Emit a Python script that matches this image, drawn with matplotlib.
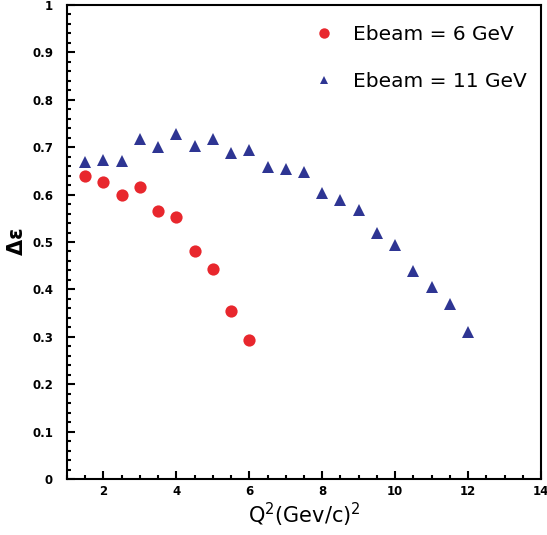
import matplotlib
matplotlib.use('Agg')
import matplotlib.pyplot as plt
from matplotlib.lines import Line2D
from matplotlib.ticker import MultipleLocator

# Ebeam = 6 GeV
q2_6 = [1.5, 2.0, 2.5, 3.0, 3.5, 4.0, 4.5, 5.0, 5.5, 6.0]
de_6 = [0.639, 0.627, 0.600, 0.617, 0.566, 0.552, 0.481, 0.442, 0.354, 0.293]

# Ebeam = 11 GeV
q2_11 = [1.5, 2.0, 2.5, 3.0, 3.5, 4.0, 4.5, 5.0, 5.5, 6.0, 6.5, 7.0, 7.5,
         8.0, 8.5, 9.0, 9.5, 10.0, 10.5, 11.0, 11.5, 12.0]
de_11 = [0.669, 0.674, 0.671, 0.717, 0.700, 0.727, 0.702, 0.717, 0.688, 0.693,
         0.659, 0.655, 0.647, 0.604, 0.589, 0.568, 0.519, 0.493, 0.439, 0.406,
         0.370, 0.311]

labels = ['Ebeam = 6 GeV', 'Ebeam = 11 GeV']
RED = '#e8272d'
BLUE = '#2e3593'

fig = plt.figure(figsize=(5.47, 5.35), dpi=100)
ax = fig.add_axes([0.1225, 0.1047, 0.8665, 0.886])

ax.plot(q2_6, de_6, 'o', color=RED, ms=8.8, mew=0, zorder=3)
ax.plot(q2_11, de_11, '^', color=BLUE, ms=8.6, mew=0, zorder=3)

ax.set_xlim(1, 14)
ax.set_ylim(0, 1)

ax.xaxis.set_major_locator(MultipleLocator(2))
ax.xaxis.set_minor_locator(MultipleLocator(0.5))
ax.yaxis.set_major_locator(MultipleLocator(0.1))
ax.yaxis.set_minor_locator(MultipleLocator(0.02))
ax.set_yticks([i / 10 for i in range(11)])
ax.set_yticklabels(['0'] + ['%.1f' % (i / 10) for i in range(1, 10)] + ['1'])
ax.set_xticks([2, 4, 6, 8, 10, 12, 14])
ax.set_xticklabels(['2', '4', '6', '8', '10', '12', '14'])

for s in ax.spines.values():
    s.set_linewidth(1.5)
ax.tick_params(which='both', direction='in', top=False, right=False,
               width=1.5, labelsize=8.5)
ax.tick_params(which='major', length=6)
ax.tick_params(which='minor', length=3)
ax.tick_params(axis='y', pad=10)
ax.tick_params(axis='x', pad=4)
for t in ax.get_xticklabels() + ax.get_yticklabels():
    t.set_fontweight('bold')

ax.set_xlabel(r'Q$^2$(Gev/c)$^2$', fontsize=15, labelpad=2)
ax.set_ylabel(r'$\mathbf{\Delta\varepsilon}$', fontsize=15, labelpad=4)

handles = [Line2D([], [], ls='none', marker='o', color=RED, ms=7.5, mew=0),
           Line2D([], [], ls='none', marker='^', color=BLUE, ms=6, mew=0)]
leg = ax.legend(handles, labels, loc='upper left', bbox_to_anchor=(0.479, 0.995),
                frameon=False, labelspacing=1.35, handletextpad=0.85,
                handlelength=1.2, prop={'size': 14.5, 'weight': 'medium'})

fig.savefig('out.png', dpi=100)
